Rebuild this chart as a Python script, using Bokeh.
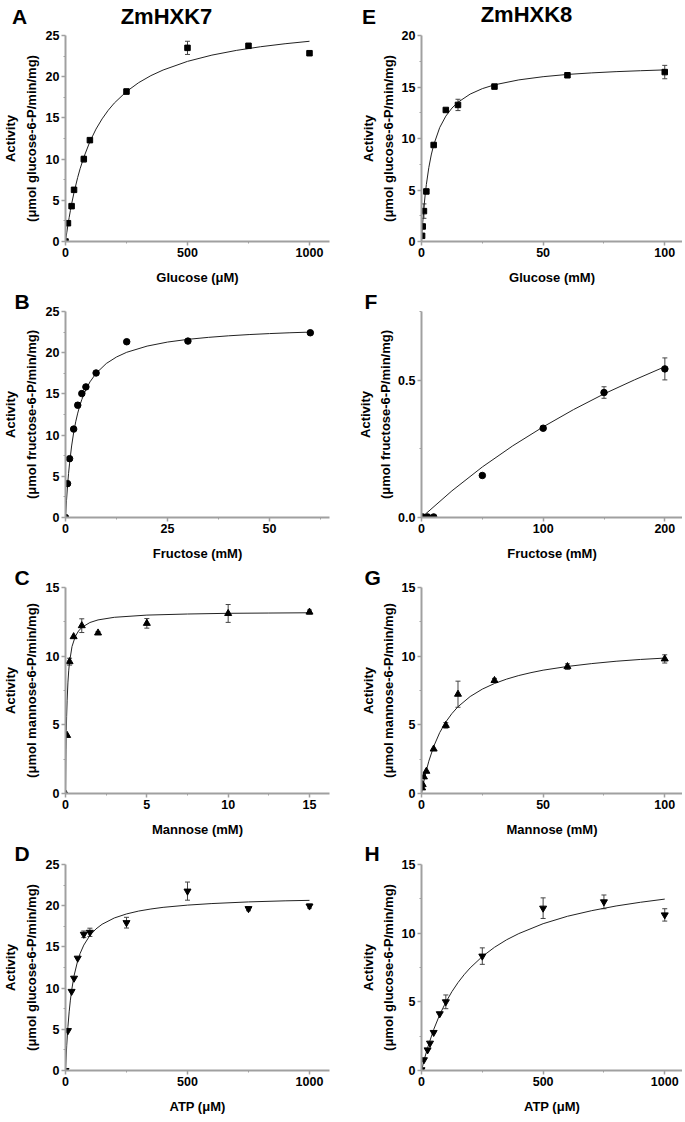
import math
from bokeh.plotting import figure
from bokeh.models import ColumnDataSource, Whisker, TeeHead, Title, FixedTicker, Range1d
from bokeh.core.properties import value
from bokeh.layouts import column, row
from bokeh.embed import file_html
from bokeh.resources import INLINE

# ---------------- data ----------------
# A: ZmHXK7, glucose (uM)
a_x = [0, 10, 25, 35, 75, 100, 250, 500, 750, 1000]
a_y = [0, 2.22, 4.29, 6.27, 10.0, 12.3, 18.2, 23.5, 23.75, 22.85]
a_err = [0, 0, 0.2, 0, 0.35, 0, 0.3, 0.8, 0, 0]
a_fit_x = [0, 5, 10, 15, 20, 25, 35, 50, 60, 75, 100, 125, 150, 175, 200, 250, 300, 350, 400,
           500, 600, 700, 800, 900, 1000]
a_fit_y = [0, 1.05, 2.01, 2.91, 3.75, 4.54, 5.96, 7.78, 8.84, 10.22, 12.12, 13.64, 14.88, 15.92,
           16.80, 18.20, 19.28, 20.13, 20.81, 21.86, 22.62, 23.19, 23.64, 24.00, 24.30]

# E: ZmHXK8, glucose (mM)
e_x = [0.25, 0.5, 1, 2, 5, 10, 15, 30, 60, 100]
e_y = [0.55, 1.46, 2.95, 4.86, 9.37, 12.77, 13.26, 15.04, 16.14, 16.45]
e_err = [0, 0, 0.7, 0, 0, 0, 0.55, 0, 0, 0.65]
e_fit_x = [0, 0.25, 0.5, 1, 1.5, 2, 3, 4, 5, 7.5, 10, 12.5, 15, 20, 25, 30, 40, 50, 60, 70, 80, 90, 100]
e_fit_y = [0, 0.96, 1.82, 3.30, 4.52, 5.54, 7.17, 8.40, 9.37, 11.07, 12.17, 12.95, 13.52, 14.31,
           14.84, 15.21, 15.69, 16.00, 16.22, 16.37, 16.49, 16.58, 16.66]

# B: ZmHXK7, fructose (mM)
b_x = [0, 0.5, 1, 2, 3, 4, 5, 7.5, 15, 30, 60]
b_y = [0, 4.11, 7.14, 10.73, 13.63, 15.04, 15.85, 17.54, 21.33, 21.41, 22.42]
b_err = [0, 0, 0, 0, 0.3, 0, 0, 0, 0, 0, 0]
b_fit_x = [0, 0.25, 0.5, 0.75, 1, 1.5, 2, 2.5, 3, 3.5, 4, 5, 6, 7.5, 10, 12.5, 15, 20, 25, 30,
           35, 40, 45, 50, 55, 60]
b_fit_y = [0, 2.09, 3.84, 5.33, 6.60, 8.68, 10.31, 11.61, 12.67, 13.57, 14.32, 15.53, 16.46, 17.50,
           18.69, 19.48, 20.05, 20.80, 21.29, 21.62, 21.86, 22.05, 22.20, 22.32, 22.42, 22.50]

# F: ZmHXK8, fructose (mM)
f_x = [1, 5, 10, 50, 100, 150, 200]
f_y = [0.002, 0.002, 0.002, 0.153, 0.325, 0.455, 0.541]
f_err = [0, 0, 0, 0, 0, 0.021, 0.04]
f_fit_x = [0, 25, 50, 75, 100, 125, 150, 175, 200]
f_fit_y = [0, 0.097, 0.184, 0.261, 0.330, 0.393, 0.450, 0.501, 0.549]

# C: ZmHXK7, mannose (mM)
c_x = [0, 0.1, 0.25, 0.5, 1, 2, 5, 10, 15]
c_y = [0, 4.23, 9.6, 11.42, 12.22, 11.69, 12.39, 13.11, 13.21]
c_err = [0, 0, 0.25, 0, 0.5, 0.1, 0.35, 0.65, 0.15]
c_fit_x = [0, 0.02, 0.03, 0.05, 0.07, 0.1, 0.15, 0.2, 0.25, 0.4, 0.6, 0.8, 1, 1.5, 2, 3, 5,
           7.5, 10, 12.5, 15]
c_fit_y = [0, 2.30, 3.18, 4.57, 5.62, 6.79, 8.11, 8.98, 9.59, 10.70, 11.43, 11.83, 12.09, 12.45,
           12.64, 12.83, 12.99, 13.07, 13.12, 13.14, 13.16]

# G: ZmHXK8, mannose (mM)
g_x = [0.25, 0.5, 1, 2, 5, 10, 15, 30, 60, 100]
g_y = [0.41, 0.65, 1.21, 1.62, 3.24, 4.96, 7.23, 8.23, 9.24, 9.8]
g_err = [0, 0, 0, 0, 0, 0.2, 0.95, 0.15, 0.2, 0.3]
g_fit_x = [0, 1, 2, 3, 5, 7.5, 10, 12.5, 15, 20, 25, 30, 35, 40, 45, 50, 60, 70, 80, 90, 100]
g_fit_y = [0, 0.91, 1.68, 2.35, 3.42, 4.44, 5.21, 5.82, 6.32, 7.06, 7.60, 8.01, 8.33, 8.59, 8.80,
           8.98, 9.25, 9.46, 9.63, 9.76, 9.86]

# D: ZmHXK7, ATP (uM)
d_x = [0, 10, 25, 35, 50, 75, 100, 250, 500, 750, 1000]
d_y = [0, 4.84, 9.6, 11.2, 13.63, 16.53, 16.77, 17.94, 21.77, 19.64, 19.96]
d_err = [0, 0, 0, 0, 0, 0.4, 0.5, 0.65, 1.1, 0.25, 0.25]
d_fit_x = [0, 5, 10, 15, 20, 25, 35, 50, 60, 75, 100, 125, 150, 200, 250, 300, 350, 400, 500,
           600, 750, 900, 1000]
d_fit_y = [0, 3.06, 5.34, 7.12, 8.54, 9.70, 11.49, 13.33, 14.21, 15.22, 16.39, 17.18, 17.75,
           18.51, 19.00, 19.35, 19.60, 19.80, 20.07, 20.26, 20.46, 20.59, 20.65]

# H: ZmHXK8, ATP (uM)
h_x = [0, 10, 25, 35, 50, 75, 100, 250, 500, 750, 1000]
h_y = [0.05, 0.78, 1.50, 1.99, 2.77, 4.13, 5.0, 8.33, 11.82, 12.28, 11.33]
h_err = [0, 0, 0, 0, 0, 0, 0.5, 0.6, 0.75, 0.5, 0.45]
h_fit_x = [0, 10, 25, 50, 75, 100, 125, 150, 175, 200, 250, 300, 350, 400, 500, 600, 700, 800,
           900, 1000]
h_fit_y = [0, 0.71, 1.65, 2.98, 4.07, 4.97, 5.74, 6.40, 6.97, 7.47, 8.30, 8.97, 9.52, 9.97,
           10.69, 11.23, 11.64, 11.98, 12.25, 12.48]

titles = ["ZmHXK7", "ZmHXK8"]
letters = ["A", "B", "C", "D", "E", "F", "G", "H"]
x_labels = ["Glucose (\u03bcM)", "Fructose (mM)", "Mannose (mM)", "ATP (\u03bcM)",
            "Glucose (mM)", "Fructose (mM)", "Mannose (mM)", "ATP (\u03bcM)"]
y_label_top = "Activity"
y_label_units = ["(\u03bcmol glucose-6-P/min/mg)", "(\u03bcmol fructose-6-P/min/mg)",
                 "(\u03bcmol mannose-6-P/min/mg)", "(\u03bcmol glucose-6-P/min/mg)"]

# ---------------- styling / layout ----------------
FONT = "Liberation Sans"
AX_COL = "#a0a0a0"
TOTAL_W = 680
TOP_B = [7, 24, 24, 25]
BOT_B = [45, 45, 45, 44]
FRAME_H = 206
LEFT_B = [63, 80]
FRAME_W = [264, 261]
RIGHT_B = [12, 0]
HEAD_H = 28
LETTER_OFF = [-51, -57]
LETTER_STANDOFF = [0, -3, -3, 0]
YLAB_STANDOFF = [(8, 0), (6, 0)]


def header(items):
    p = figure(width=TOTAL_W, height=HEAD_H, x_range=Range1d(0, TOTAL_W),
               y_range=Range1d(HEAD_H, 0),
               x_axis_type=None, y_axis_type=None, toolbar_location=None,
               output_backend="svg", min_border=0, min_border_left=0, min_border_right=0,
               min_border_top=0, min_border_bottom=0)
    p.outline_line_color = None
    p.grid.visible = False
    for (x, y, txt, size) in items:
        p.text(x=[x], y=[y], text=[txt], text_font=value(FONT), text_font_style="bold",
               text_font_size=size, text_align="center", text_baseline="middle",
               text_color="black")
    return p


def make_panel(ci, ri, xs, ys, errs, fx, fy, marker, msize, xmax, ymax,
               xticks, xminor, yticks, yminor, xlabel, ylab2, letter=None, yover=None):
    p = figure(frame_width=FRAME_W[ci], frame_height=FRAME_H,
               min_border_left=LEFT_B[ci], min_border_right=RIGHT_B[ci],
               min_border_top=TOP_B[ri], min_border_bottom=BOT_B[ri],
               x_range=Range1d(0, xmax), y_range=Range1d(0, ymax),
               output_backend="svg", toolbar_location=None,
               background_fill_color="white", border_fill_color="white")
    p.outline_line_color = None
    p.xgrid.visible = False
    p.ygrid.visible = False
    for ax, tk, mn in ((p.xaxis[0], xticks, xminor), (p.yaxis[0], yticks, yminor)):
        ax.ticker = FixedTicker(ticks=tk, minor_ticks=mn)
        ax.axis_line_color = AX_COL
        ax.axis_line_width = 2
        ax.major_tick_line_color = AX_COL
        ax.minor_tick_line_color = AX_COL
        ax.major_tick_line_width = 1.5
        ax.minor_tick_line_width = 1
        ax.major_tick_out = 4
        ax.major_tick_in = 0
        ax.minor_tick_out = 2
        ax.minor_tick_in = 0
        ax.major_label_text_font = FONT
        ax.major_label_text_font_style = "bold"
        ax.major_label_text_font_size = "12.5px"
        ax.major_label_text_color = "black"
        ax.major_label_standoff = 2
    p.xaxis.axis_label = xlabel
    p.xaxis.axis_label_text_font = FONT
    p.xaxis.axis_label_text_font_style = "bold"
    p.xaxis.axis_label_text_font_size = "13px"
    p.xaxis.axis_label_text_color = "black"
    p.xaxis.axis_label_standoff = 10
    if yover:
        p.yaxis.major_label_overrides = yover

    # y axis title in two lines (inner line first, outer line second)
    for txt, so in ((ylab2, YLAB_STANDOFF[ci][0]), (y_label_top, YLAB_STANDOFF[ci][1])):
        p.add_layout(Title(text=txt, align="center", text_font=FONT, text_font_style="bold",
                           text_font_size="13px", text_color="black", standoff=so), "left")
    # panel letter above the frame
    if letter:
        p.add_layout(Title(text=letter, align="left", offset=LETTER_OFF[ci], text_font=FONT,
                           text_font_style="bold", text_font_size="21px", text_color="black",
                           standoff=LETTER_STANDOFF[ri]), "above")

    p.line(fx, fy, line_color="#222222", line_width=1)
    ex = [x for x, e in zip(xs, errs) if e > 0]
    eu = [y + e for y, e in zip(ys, errs) if e > 0]
    el = [y - e for y, e in zip(ys, errs) if e > 0]
    if ex:
        src = ColumnDataSource(dict(x=ex, upper=eu, lower=el))
        p.add_layout(Whisker(source=src, base="x", upper="upper", lower="lower",
                             line_color="#444444", line_width=1,
                             upper_head=TeeHead(size=5, line_color="#444444", line_width=1),
                             lower_head=TeeHead(size=5, line_color="#444444", line_width=1)))
    p.scatter(xs, ys, marker=marker, size=msize, fill_color="black", line_color="black")
    return p


pa = make_panel(0, 0, a_x, a_y, a_err, a_fit_x, a_fit_y, "square", 5.5, 1082, 25,
                [0, 500, 1000], [250, 750], [0, 5, 10, 15, 20, 25], [2.5, 7.5, 12.5, 17.5, 22.5],
                x_labels[0], y_label_units[0])
pb = make_panel(0, 1, b_x, b_y, b_err, b_fit_x, b_fit_y, "circle", 6.5, 64.7, 25,
                [0, 25, 50], [12.5, 37.5, 62.5], [0, 5, 10, 15, 20, 25], [2.5, 7.5, 12.5, 17.5, 22.5],
                x_labels[1], y_label_units[1], letter=letters[1])
pc = make_panel(0, 2, c_x, c_y, c_err, c_fit_x, c_fit_y, "triangle", 7, 16.23, 15,
                [0, 5, 10, 15], [2.5, 7.5, 12.5], [0, 5, 10, 15], [2.5, 7.5, 12.5],
                x_labels[2], y_label_units[2], letter=letters[2])
pd = make_panel(0, 3, d_x, d_y, d_err, d_fit_x, d_fit_y, "inverted_triangle", 7, 1082, 25,
                [0, 500, 1000], [250, 750], [0, 5, 10, 15, 20, 25], [2.5, 7.5, 12.5, 17.5, 22.5],
                x_labels[3], y_label_units[3], letter=letters[3])
pe = make_panel(1, 0, e_x, e_y, e_err, e_fit_x, e_fit_y, "square", 5.5, 107.3, 20,
                [0, 50, 100], [25, 75], [0, 5, 10, 15, 20], [2.5, 7.5, 12.5, 17.5],
                x_labels[4], y_label_units[0])
pf = make_panel(1, 1, f_x, f_y, f_err, f_fit_x, f_fit_y, "circle", 6.5, 214.5, 0.75,
                [0, 100, 200], [50, 150], [0, 0.5], [0.25, 0.75],
                x_labels[5], y_label_units[1], letter=letters[5], yover={0: "0.0", 0.5: "0.5"})
pg = make_panel(1, 2, g_x, g_y, g_err, g_fit_x, g_fit_y, "triangle", 7, 107.3, 15,
                [0, 50, 100], [25, 75], [0, 5, 10, 15], [2.5, 7.5, 12.5],
                x_labels[6], y_label_units[2], letter=letters[6])
ph = make_panel(1, 3, h_x, h_y, h_err, h_fit_x, h_fit_y, "inverted_triangle", 7, 1073, 15,
                [0, 500, 1000], [250, 750], [0, 5, 10, 15], [2.5, 7.5, 12.5],
                x_labels[7], y_label_units[3], letter=letters[7])

h1 = header([(19, 16.3, letters[0], "21px"), (166, 15.5, titles[0], "22px"),
             (368.5, 16.3, letters[4], "21px"), (526, 13.5, titles[1], "22px")])

layout = column(h1, row(pa, pe), row(pb, pf), row(pc, pg), row(pd, ph))
open("out.html", "w").write(file_html(layout, INLINE))
